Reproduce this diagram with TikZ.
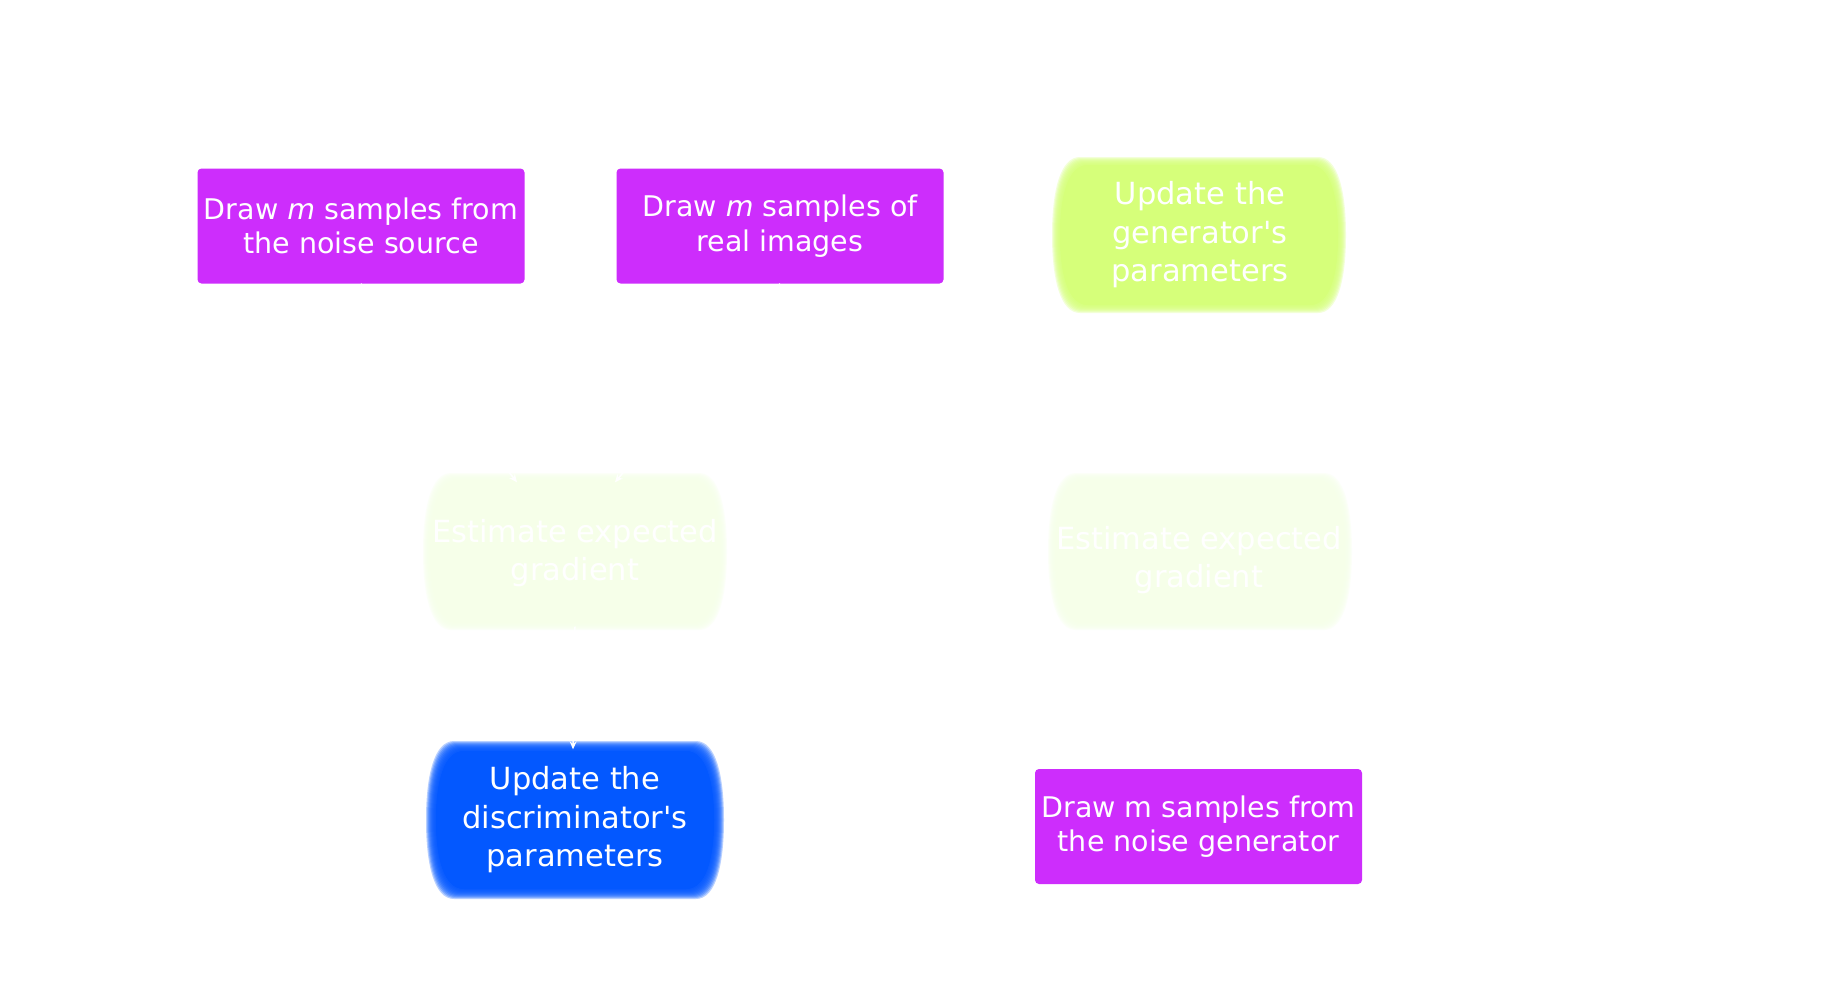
\documentclass[tikz,border=0pt]{standalone}
\usepackage{fontspec}
\setmainfont{DejaVu Sans}
\usetikzlibrary{arrows.meta}
\definecolor{purp}{RGB}{205,45,252}
\definecolor{lime}{RGB}{214,255,122}
\definecolor{pale}{RGB}{246,255,233}
\definecolor{blu}{RGB}{3,88,255}
\newcommand\blobshape[6]{%
  \pgfmathsetmacro\bxl{#1-#5}\pgfmathsetmacro\bxr{#3+#5}%
  \pgfmathsetmacro\byt{#2-#5}\pgfmathsetmacro\byb{#4+#5}%
  \pgfmathsetmacro\bym{(#2+#4)/2}%
  \pgfmathsetmacro\bq{0.22*(\byb-\byt)}%
  \fill[#6] (\bxl+28,\byt) -- (\bxr-28,\byt)
    .. controls (\bxr-8,\byt) and (\bxr,\byt+\bq) .. (\bxr,\bym)
    .. controls (\bxr,\byb-\bq) and (\bxr-8,\byb) .. (\bxr-28,\byb)
    -- (\bxl+28,\byb)
    .. controls (\bxl+8,\byb) and (\bxl,\byb-\bq) .. (\bxl,\bym)
    .. controls (\bxl,\byt+\bq) and (\bxl+8,\byt) .. cycle;}
\newcommand\softblob[6]{% x1 y1 x2 y2 colour blur
  \blobshape{#1}{#2}{#3}{#4}{-#6}{#5}%
  \foreach \dd in {-#6,...,#6}{\blobshape{#1}{#2}{#3}{#4}{\dd}{#5,opacity=0.28}}}
\begin{document}
\begin{tikzpicture}[x=1pt,y=-1pt,
  txt/.style={text=white,align=center,inner sep=0pt,
    font=\fontsize{30.5}{38.5}\selectfont},
  pbox/.style={txt,fill=purp,rounded corners=4pt,minimum width=327pt,
    minimum height=115pt,font=\fontsize{28.5}{34.5}\selectfont},
  blobnode/.style={txt,minimum width=294pt,minimum height=147pt},
  conn/.style={white,line width=1.5pt,-{Stealth[length=8pt,width=7pt]}}]
\useasboundingbox[fill=white] (0,0) rectangle (1828,1006);

% soft rounded shapes
\softblob{1056}{161}{1342}{309}{lime}{4}
\softblob{429}{479}{721}{624}{pale}{6}
\softblob{1054}{479}{1346}{624}{pale}{6}
\softblob{431}{746}{719}{894}{blu}{5}

% nodes
\node[pbox] (noise) at (361,226) {Draw \textit{m} samples from\\the noise source};
\node[pbox] (real) at (780,226) {Draw \textit{m} samples of\\real images};
\node[blobnode] (upgen) at (1200,235) {Update the\\generator\textquotesingle s\\parameters};
\node[blobnode] (estL) at (575,553) {Estimate expected\\gradient};
\node[blobnode] (estR) at (1199,560) {Estimate expected\\gradient};
\node[blobnode] (updis) at (575,820) {Update the\\discriminator\textquotesingle s\\parameters};
\node[pbox] (noisegen) at (1198.5,826.5) {Draw m samples from\\the noise generator};

% connectors (white, as in the reference)
\draw[conn] (noise.south) -- ([xshift=-58pt,yshift=-3pt]estL.north);
\draw[conn] (real.south) -- ([xshift=40pt,yshift=-3pt]estL.north);
\draw[conn] (estL.south) -- ([xshift=-2pt,yshift=-3pt]updis.north);
\end{tikzpicture}
\end{document}
